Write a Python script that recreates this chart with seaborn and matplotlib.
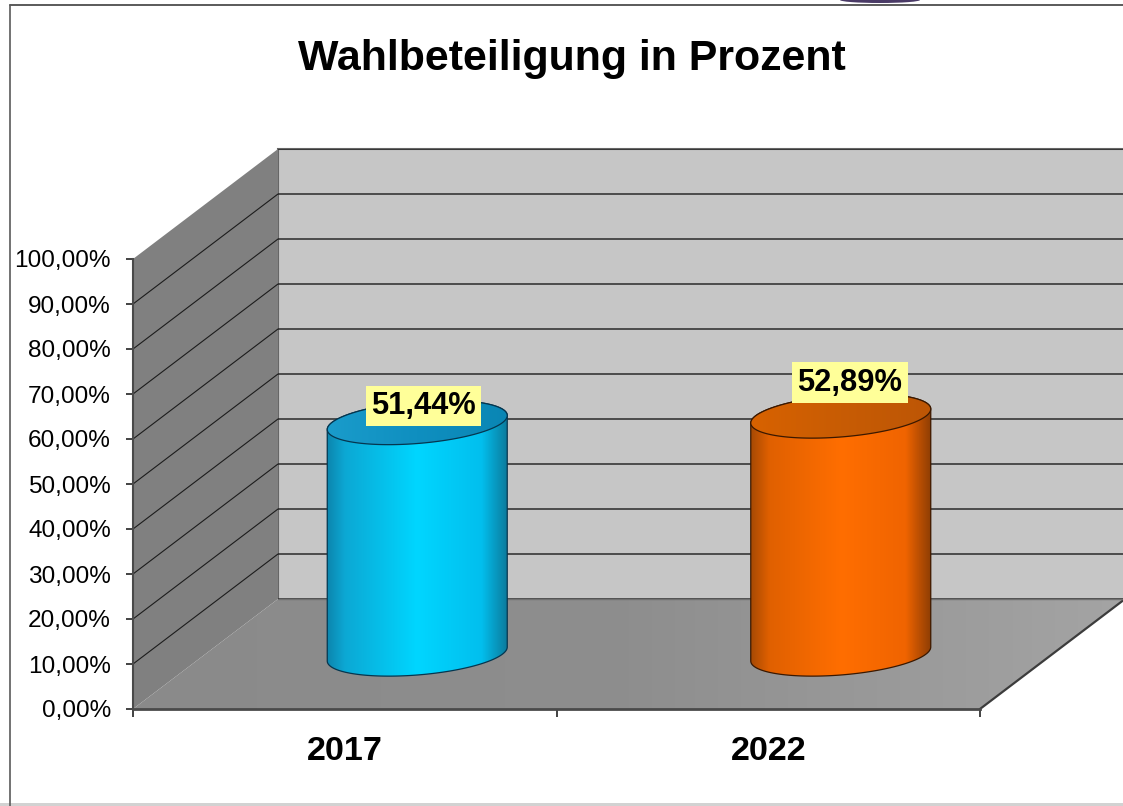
import numpy as np
import pandas as pd
import seaborn as sns
from matplotlib import pyplot as plt
from matplotlib.colors import LinearSegmentedColormap
from matplotlib.patches import Polygon, Rectangle, Ellipse
from matplotlib.ticker import FuncFormatter

# data
title = "Wahlbeteiligung in Prozent"
years = ["2017", "2022"]
turnout = [51.44, 52.89]
turnout_labels = ["51,44%", "52,89%"]
y_ticks = [0, 10, 20, 30, 40, 50, 60, 70, 80, 90, 100]

# colours: edge, centre, edge of the cylinder side, then lid
side_stops = [0, 0.1, 0.5, 0.86, 1]
side_colors = [["#0d86ae", "#0ca8d4", "#00d6ff", "#02bfee", "#0b7c9e"],
               ["#a84a04", "#e06000", "#ff6e00", "#f06400", "#8f3e04"]]
lid_colors = [["#1a9ccb", "#0f8fc0", "#0a86b4"],
              ["#d86200", "#c85c04", "#bd5606"]]
line_colors = ["#05364f", "#3a1800"]
label_shift_x = [4.5, 6.7]  # pt from the bar centre
label_shift_y = [12, 24]    # pt above the lid centre

W, H = 1123, 806
plot_left, plot_right, plot_top, plot_bottom = 133, 980, 259, 709
depth_x, depth_y = 145, 110
below = 20   # room under zero on the bar plane, for the round bottoms

sns.set_style("white")
plt.rcParams["font.family"] = ["Liberation Sans", "DejaVu Sans"]

fig = plt.figure(figsize=(W / 100, H / 100), dpi=100, facecolor="white")
px_per_unit = (plot_bottom - plot_top) / 100
px_per_cat = (plot_right - plot_left) / 2


def plane(frac, zorder, y_min=0):
    # the same value axes, moved frac of the way to the back wall
    extra = -y_min * px_per_unit
    pos = [(plot_left + depth_x * frac) / W,
           (H - plot_bottom + depth_y * frac - extra) / H,
           (plot_right - plot_left) / W,
           (plot_bottom - plot_top + extra) / H]
    a = fig.add_axes(pos, zorder=zorder)
    a.set_xlim(-0.5, 1.5)
    a.set_ylim(y_min, 100)
    return a


back = plane(1, 1)
base = plane(0, 3)
mid = plane(0.5, 4, y_min=-below)
base.patch.set_alpha(0)
mid.patch.set_alpha(0)
mid.set_axis_off()

# sheet in pixels for the side wall and the floor
sheet = fig.add_axes([0, 0, 1, 1], zorder=2)
sheet.set_xlim(0, W)
sheet.set_ylim(0, H)
sheet.set_axis_off()
sheet.patch.set_alpha(0)

# back wall
back.set_facecolor("#c6c6c6")
back.set_xticks([])
back.set_yticks(y_ticks)
back.tick_params(left=False, labelleft=False)
back.grid(axis="y", color="#2a2a2a", lw=1.1)
back.set_axisbelow(False)
for s in back.spines.values():
    s.set_visible(False)
back.spines["top"].set_visible(True)
back.spines["top"].set_color("#666666")
back.spines["top"].set_linewidth(1.5)
back.spines["left"].set_visible(True)
back.spines["left"].set_color("#666666")

fig.canvas.draw()


def front_pt(x, y):
    return base.transData.transform((x, y))


def back_pt(x, y):
    return back.transData.transform((x, y))


wall = Polygon([front_pt(-0.5, 0), back_pt(-0.5, 0), back_pt(-0.5, 100), front_pt(-0.5, 100)],
               closed=True, fc="#808080", ec="none", zorder=1)
sheet.add_patch(wall)
floor = Polygon([front_pt(-0.5, 0), front_pt(1.5, 0), back_pt(1.5, 0), back_pt(-0.5, 0)],
                closed=True, fc="none", ec="none", zorder=2)
sheet.add_patch(floor)
floor_map = LinearSegmentedColormap.from_list("floor", ["#8a8a8a", "#8e8e8e", "#a4a4a4"])
floor_im = sheet.imshow(np.linspace(0, 1, 256)[None, :], cmap=floor_map, aspect="auto", zorder=1.5,
                        extent=(plot_left, plot_right + depth_x, H - plot_bottom, H - plot_bottom + depth_y))
floor_im.set_clip_path(floor)
sheet.set_xlim(0, W)
sheet.set_ylim(0, H)
sheet.plot(*zip(front_pt(1.5, 0), back_pt(1.5, 0)), color="#3c3c3c", lw=1.6, zorder=3)
for v in y_ticks[1:-1]:
    sheet.plot(*zip(front_pt(-0.5, v), back_pt(-0.5, v)), color="#1c1c1c", lw=0.8, zorder=3)
sheet.plot(*zip(back_pt(-0.5, 0), back_pt(1.5, 0)), color="#707070", lw=1.0, zorder=3)

# axes of the front plane
sns.despine(ax=base, top=True, right=True)
base.spines["left"].set_color("#4a4a4a")
base.spines["left"].set_linewidth(1.5)
base.spines["bottom"].set_color("#4a4a4a")
base.spines["bottom"].set_linewidth(2)
base.set_yticks(y_ticks)
base.yaxis.set_major_formatter(FuncFormatter(lambda v, p: f"{v:.2f}%".replace(".", ",")))
base.tick_params(axis="y", left=True, length=5, width=1.2, color="#222222", pad=11,
                 labelsize=17.6, labelcolor="black")
base.set_xticks([0, 1])
base.set_xticklabels(years, fontsize=24.6, fontweight="bold", color="black")
base.set_xticks([-0.5, 0.5, 1.5], minor=True)
base.tick_params(axis="x", which="major", bottom=False, pad=16)
base.tick_params(axis="x", which="minor", bottom=True, length=6, width=1.2, color="#222222")

# bars, then shaped into cylinders
df = pd.DataFrame({"Jahr": years, "Wahlbeteiligung": turnout})
sns.barplot(data=df, x="Jahr", y="Wahlbeteiligung", hue="Jahr", palette=[c[2] for c in side_colors],
            width=180 / px_per_cat, legend=False, ax=mid, saturation=1, linewidth=0)
mid.set_axis_off()

ell_ry = 21 / px_per_unit
ell_tilt = 7 / px_per_unit
t = np.linspace(0, 2 * np.pi, 241)

for i, bar in enumerate(list(mid.patches)):
    x0, w, h = bar.get_x(), bar.get_width(), bar.get_height()
    cx = x0 + w / 2
    ex = cx + w / 2 * np.cos(t)
    lower = t >= np.pi
    upper = t <= np.pi
    bottom_y = ell_ry * np.sin(t) + ell_tilt * np.cos(t)
    top_y = h + bottom_y
    body_xy = np.r_[np.c_[ex[lower], bottom_y[lower]], np.c_[ex[upper], top_y[upper]]]

    body = Polygon(body_xy, closed=True, fc="none", ec=line_colors[i], lw=0.9, zorder=6)
    mid.add_patch(body)
    bar.set_clip_path(body)
    cmap = LinearSegmentedColormap.from_list(f"side{i}", list(zip(side_stops, side_colors[i])))
    im = mid.imshow(np.linspace(0, 1, 256)[None, :], cmap=cmap, aspect="auto", zorder=5,
                    extent=(x0, x0 + w, -ell_ry - ell_tilt, h + ell_ry + ell_tilt))
    im.set_clip_path(body)

    lid = Polygon(np.c_[ex, top_y], closed=True, fc="none", ec=line_colors[i], lw=0.9, zorder=8)
    mid.add_patch(lid)
    lid_map = LinearSegmentedColormap.from_list(f"lid{i}", lid_colors[i])
    im2 = mid.imshow(np.linspace(0, 1, 256)[None, :], cmap=lid_map, aspect="auto", zorder=7,
                     extent=(x0, x0 + w, h - ell_ry - ell_tilt, h + ell_ry + ell_tilt))
    im2.set_clip_path(lid)

    mid.annotate(turnout_labels[i], xy=(cx, h), xytext=(label_shift_x[i], label_shift_y[i]),
                 textcoords="offset points", ha="center", va="center", fontsize=22.2,
                 fontweight="bold", color="black", zorder=10, annotation_clip=False,
                 bbox=dict(boxstyle="square,pad=0.17", fc="#ffff99", ec="none"))
mid.set_xlim(-0.5, 1.5)
mid.set_ylim(-below, 100)

# title and the frame of the slide
fig.text(571.5 / W, 1 - 59 / H, title, ha="center", va="center", fontsize=30.9, fontweight="bold",
         color="black")
fig.add_artist(plt.Line2D([10 / W, 10 / W], [0, 1 - 5 / H], color="#5a5a5a", lw=1.2))
fig.add_artist(plt.Line2D([10 / W, 1], [1 - 5 / H, 1 - 5 / H], color="#5a5a5a", lw=1.4))
fig.add_artist(Rectangle((0, 0), 1, 3 / H, transform=fig.transFigure, fc="#d2d2d2", ec="none"))
fig.add_artist(Ellipse((880 / W, 1 - 0 / H), 80 / W, 6 / H, transform=fig.transFigure,
                       fc="#4a3a66", ec="none"))

fig.savefig("out.png", dpi=100)
plt.close()
